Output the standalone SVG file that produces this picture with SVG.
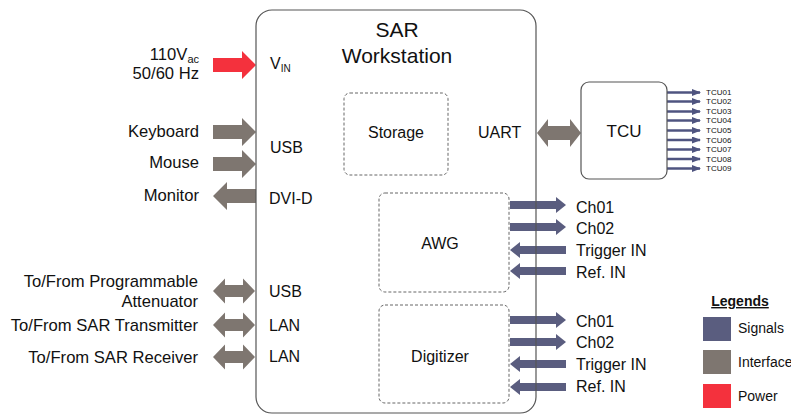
<svg xmlns="http://www.w3.org/2000/svg" width="791" height="416" viewBox="0 0 791 416">
<style>
text{font-family:"Liberation Sans",Arial,sans-serif;fill:#111;}
.l16{font-size:16px;}
.lx{font-size:16.6px;}
.r{text-anchor:end;}
.m{text-anchor:middle;}
.sig{fill:#5a5d7f;}
.ifc{fill:#7e7670;}
.pwr{fill:#f4313d;}
.box{fill:none;stroke:#555;stroke-width:1.2;}
.dash{fill:none;stroke:#666;stroke-width:1;stroke-dasharray:3 2;}
.tl{stroke:#4f5480;stroke-width:2.4;fill:none;marker-end:url(#ah);}
.tt{font-size:8px;}
</style>
<defs>
<marker id="ah" markerWidth="9" markerHeight="7" refX="8" refY="3.5" orient="auto" markerUnits="userSpaceOnUse">
<path d="M0,0 L9,3.5 L0,7 Z" fill="#4f5480"/>
</marker>
</defs>
<rect width="791" height="416" fill="#fff"/>

<g id="connectors">
<path class="pwr" d="M213,58 L242,58 L242,51 L256,65 L242,79 L242,72 L213,72 Z"/>
<path class="ifc" d="M213,125 L242,125 L242,118 L256,132 L242,146 L242,139 L213,139 Z"/>
<path class="ifc" d="M213,157 L242,157 L242,150 L256,164 L242,178 L242,171 L213,171 Z"/>
<path class="ifc" d="M256,189 L227,189 L227,182 L213,196 L227,210 L227,203 L256,203 Z"/>
<path class="ifc" d="M213,291 L225,278.5 L225,285 L243,285 L243,278.5 L255,291 L243,303.5 L243,297 L225,297 L225,303.5 Z"/>
<path class="ifc" d="M213,325 L225,312.5 L225,319 L243,319 L243,312.5 L255,325 L243,337.5 L243,331 L225,331 L225,337.5 Z"/>
<path class="ifc" d="M213,357 L225,344.5 L225,351 L243,351 L243,344.5 L255,357 L243,369.5 L243,363 L225,363 L225,369.5 Z"/>
<path class="ifc" d="M537,133 L548,119 L548,126 L570,126 L570,119 L581,133 L570,147 L570,140 L548,140 L548,147 Z"/>
<path class="sig" d="M510,201 L556,201 L556,197 L566,205 L556,213 L556,209 L510,209 Z"/>
<path class="sig" d="M510,223 L556,223 L556,219 L566,227 L556,235 L556,231 L510,231 Z"/>
<path class="sig" d="M566,246 L520,246 L520,242 L510,250 L520,258 L520,254 L566,254 Z"/>
<path class="sig" d="M566,267 L520,267 L520,263 L510,271 L520,279 L520,275 L566,275 Z"/>
<path class="sig" d="M510,316 L556,316 L556,312 L566,320 L556,328 L556,324 L510,324 Z"/>
<path class="sig" d="M510,338 L556,338 L556,334 L566,342 L556,350 L556,346 L510,346 Z"/>
<path class="sig" d="M566,360 L520,360 L520,356 L510,364 L520,372 L520,368 L566,368 Z"/>
<path class="sig" d="M566,383 L520,383 L520,379 L510,387 L520,395 L520,391 L566,391 Z"/>
<line class="tl" x1="667" y1="92.5" x2="700" y2="92.5"/>
<line class="tl" x1="667" y1="101.5" x2="700" y2="101.5"/>
<line class="tl" x1="667" y1="111.5" x2="700" y2="111.5"/>
<line class="tl" x1="667" y1="120.5" x2="700" y2="120.5"/>
<line class="tl" x1="667" y1="130.5" x2="700" y2="130.5"/>
<line class="tl" x1="667" y1="140" x2="700" y2="140"/>
<line class="tl" x1="667" y1="149.5" x2="700" y2="149.5"/>
<line class="tl" x1="667" y1="159" x2="700" y2="159"/>
<line class="tl" x1="667" y1="168.5" x2="700" y2="168.5"/>
</g>

<g id="workstation">
<rect class="box" x="256" y="10" width="280" height="403" rx="16"/>
<text class="m" x="397" y="37" font-size="21">SAR</text>
<text class="m" x="397" y="63" font-size="21">Workstation</text>
<text class="l16" x="270" y="69">V<tspan font-size="10" dy="3">IN</tspan></text>
<text class="l16" x="270" y="153">USB</text>
<text class="l16" x="269" y="204">DVI-D</text>
<text class="l16" x="269" y="297">USB</text>
<text class="l16" x="269" y="331">LAN</text>
<text class="l16" x="269" y="362">LAN</text>
<text class="l16" x="478" y="138">UART</text>
</g>

<g id="storage">
<rect class="dash" x="344" y="93" width="104" height="82" rx="6"/>
<text class="l16 m" x="396" y="138">Storage</text>
</g>

<g id="awg">
<rect class="dash" x="379" y="193" width="130" height="99" rx="6"/>
<text class="l16 m" x="440" y="249">AWG</text>
<text class="l16" x="576" y="213">Ch01</text>
<text class="l16" x="576" y="234">Ch02</text>
<text class="l16" x="576" y="256">Trigger IN</text>
<text class="l16" x="576" y="278">Ref. IN</text>
</g>

<g id="digitizer">
<rect class="dash" x="379" y="305" width="130" height="98" rx="6"/>
<text class="l16 m" x="440" y="362">Digitizer</text>
<text class="l16" x="576" y="327">Ch01</text>
<text class="l16" x="576" y="348">Ch02</text>
<text class="l16" x="576" y="370">Trigger IN</text>
<text class="l16" x="576" y="392">Ref. IN</text>
</g>

<g id="tcu">
<rect class="box" x="581" y="82" width="86" height="97" rx="8"/>
<text class="m" x="624" y="137" font-size="17">TCU</text>
<text class="tt" x="706" y="95">TCU01</text>
<text class="tt" x="706" y="104">TCU02</text>
<text class="tt" x="706" y="114">TCU03</text>
<text class="tt" x="706" y="123">TCU04</text>
<text class="tt" x="706" y="133">TCU05</text>
<text class="tt" x="706" y="142.5">TCU06</text>
<text class="tt" x="706" y="152">TCU07</text>
<text class="tt" x="706" y="161.5">TCU08</text>
<text class="tt" x="706" y="171">TCU09</text>
</g>

<g id="external-labels">
<text class="lx r" x="199" y="60">110V<tspan font-size="11" dy="3">ac</tspan></text>
<text class="lx r" x="199" y="79">50/60 Hz</text>
<text class="lx r" x="199" y="137">Keyboard</text>
<text class="lx r" x="199" y="168">Mouse</text>
<text class="lx r" x="199" y="201">Monitor</text>
<text class="lx r" x="198" y="287">To/From Programmable</text>
<text class="lx r" x="198" y="307">Attenuator</text>
<text class="lx r" x="198" y="331">To/From SAR Transmitter</text>
<text class="lx r" x="198" y="363">To/From SAR Receiver</text>
</g>

<g id="legend">
<text class="m" x="740" y="306" font-size="14" font-weight="bold" text-decoration="underline">Legends</text>
<rect class="sig" x="703" y="317" width="28" height="24"/>
<text x="738" y="333" font-size="14">Signals</text>
<rect class="ifc" x="703" y="350" width="28" height="24"/>
<text x="738" y="367" font-size="14">Interface</text>
<rect class="pwr" x="703" y="384" width="28" height="24"/>
<text x="738" y="401" font-size="14">Power</text>
</g>
</svg>
